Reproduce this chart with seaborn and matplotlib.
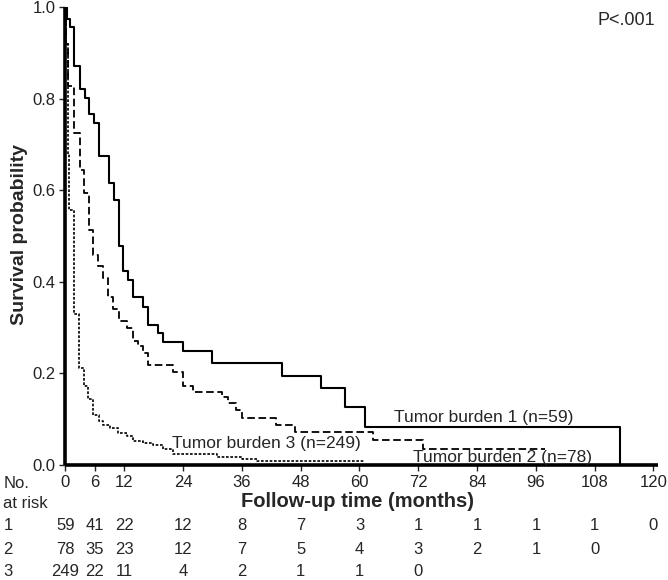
import numpy as np
import pandas as pd
import seaborn as sns
from matplotlib import pyplot as plt
from matplotlib.transforms import blended_transform_factory

# Kaplan-Meier steps (months, survival after the step)
tb1_time = [0, 0.25, 0.9, 1.7, 3.0, 4.0, 4.9, 5.9, 6.9, 8.9, 9.9, 11.0, 11.8, 12.8,
            13.8, 15.9, 16.9, 18.9, 20.0, 24.0, 30.0, 44.1, 52.1, 57.0, 61.1, 113.2]
tb1_surv = [1.0, 0.974, 0.958, 0.871, 0.821, 0.803, 0.766, 0.747, 0.675, 0.616, 0.579, 0.479, 0.423, 0.405,
            0.368, 0.345, 0.306, 0.288, 0.268, 0.248, 0.222, 0.195, 0.168, 0.126, 0.084, 0.0]

tb2_time = [0, 0.2, 0.6, 1.7, 3.0, 3.8, 4.9, 5.7, 6.7, 7.6, 8.7, 9.8, 11.0, 12.5, 13.7,
            14.9, 15.9, 16.9, 22.0, 24.0, 26.1, 31.9, 33.2, 34.9, 36.0, 42.9, 46.8, 62.8, 73.0, 97.9]
tb2_surv = [1.0, 0.92, 0.828, 0.726, 0.645, 0.594, 0.514, 0.459, 0.434, 0.408, 0.368, 0.341, 0.314, 0.299, 0.27,
            0.259, 0.245, 0.219, 0.204, 0.173, 0.16, 0.149, 0.135, 0.12, 0.102, 0.0875, 0.073, 0.055, 0.036, 0.036]

tb3_time = [0, 0.1, 0.45, 0.6, 0.75, 1.7, 2.8, 3.8, 4.65, 5.7, 6.8, 7.7, 9.1, 10.8, 12.5,
            13.8, 15.9, 17.9, 20.0, 22.0, 31.0, 36.0, 39.0, 61.0]
tb3_surv = [1.0, 0.919, 0.8, 0.68, 0.558, 0.330, 0.212, 0.173, 0.145, 0.109, 0.096, 0.0875, 0.080, 0.069, 0.063,
            0.052, 0.047, 0.043, 0.035, 0.024, 0.018, 0.012, 0.008, 0.008]

risk_times = [0, 6, 12, 24, 36, 48, 60, 72, 84, 96, 108, 120]
risk_tb1 = [59, 41, 22, 12, 8, 7, 3, 1, 1, 1, 1, 0]
risk_tb2 = [78, 35, 23, 12, 7, 5, 4, 3, 2, 1, 0]
risk_tb3 = [249, 22, 11, 4, 2, 1, 1, 0]

curve_labels = ['Tumor burden 1 (n=59)', 'Tumor burden 2 (n=78)', 'Tumor burden 3 (n=249)']

sns.set_style('ticks')
plt.rcParams['font.family'] = ['Liberation Sans', 'DejaVu Sans']

fig = plt.figure(figsize=(6.68, 5.8), dpi=100)
ax = fig.add_axes([0.098, 0.1983, 0.8876, 0.789])

# one frame per group, steps drawn by seaborn/matplotlib
curves = {'1': (tb1_time, tb1_surv), '2': (tb2_time, tb2_surv), '3': (tb3_time, tb3_surv)}
styles = {'1': ('-', 1.5), '2': ((0, (4.2, 2.0)), 1.3), '3': ((0, (1.6, 1.0)), 1.2)}
for g, (t, s) in curves.items():
    df = pd.DataFrame({'time': t, 'surv': s})
    ls, lw = styles[g]
    sns.lineplot(data=df, x='time', y='surv', ax=ax, color='black', estimator=None, sort=False,
                 drawstyle='steps-post', linestyle=ls, linewidth=lw)

ax.set_xlim(0, 121)
ax.set_ylim(0, 1.0)
ax.set_xticks(risk_times)
ax.set_yticks([0, 0.2, 0.4, 0.6, 0.8, 1.0])
ax.set_yticklabels(['0.0', '0.2', '0.4', '0.6', '0.8', '1.0'])
ax.tick_params(axis='both', direction='out', length=4, width=1, labelsize=12, colors='#222222', pad=3)
for side in ['top', 'right']:
    ax.spines[side].set_visible(False)
for side in ['left', 'bottom']:
    ax.spines[side].set_linewidth(2.6)
    ax.spines[side].set_color('black')
    ax.spines[side].set_capstyle('butt')

ax.set_ylabel('Survival probability', fontsize=14, fontweight='bold')
ax.yaxis.set_label_coords(-0.063, 0.503)
ax.set_xlabel('Follow-up time (months)', fontsize=14.5, fontweight='bold')
ax.xaxis.set_label_coords(0.4925, -0.058)

ax.text(67.0, 0.103, curve_labels[0], fontsize=12.5, ha='left', va='center')
ax.text(71.0, 0.017, curve_labels[1], fontsize=12.5, ha='left', va='center')
ax.text(21.8, 0.047, curve_labels[2], fontsize=12.5, ha='left', va='center')
fig.text(0.894, 0.9655, 'P<.001', fontsize=13, ha='left', va='center')

# number at risk table
fig.text(0.005, 1 - 484 / 580, 'No.', fontsize=12, va='center')
fig.text(0.005, 1 - 504 / 580, 'at risk', fontsize=12, va='center')
trans = blended_transform_factory(ax.transData, fig.transFigure)
row_y = [526, 549, 572]
for i, row in enumerate([risk_tb1, risk_tb2, risk_tb3]):
    yf = 1 - row_y[i] / 580
    fig.text(0.005, yf, str(i + 1), fontsize=12, va='center')
    for t, n in zip(risk_times, row):
        ax.text(t, yf, str(n), fontsize=12, ha='center', va='center', transform=trans)

fig.savefig('out.png', dpi=100)
